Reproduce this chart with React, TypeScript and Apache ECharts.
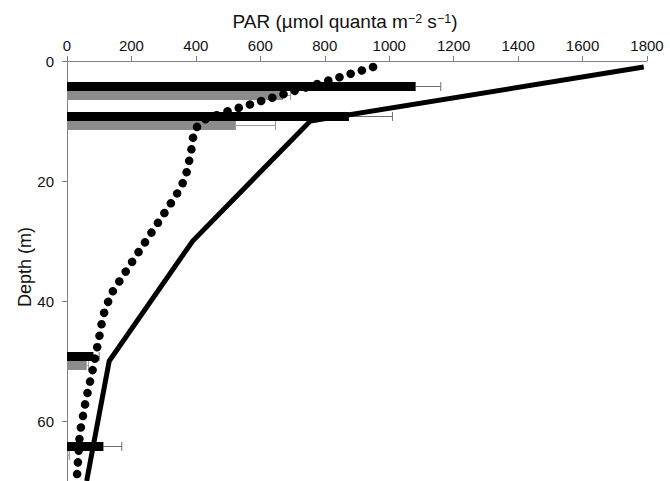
import React, { useEffect, useRef } from "react";
import * as echarts from "echarts";

// PAR (x) against depth (y)
const xTicks = { min: 0, max: 1800, interval: 200 };
const yTicks = { min: 0, max: 70, interval: 20 };

// paired bar measurements at each sampling depth (m)
const barDepths = [5, 10, 50, 65];
const blackValues = [1082, 875, 82, 113];
const blackErrors = [78, 135, 18, 57];
const grayValues = [670, 524, 61, 4];
const grayErrors = [24, 123, 6, 4];

// modelled light profile (solid line): [PAR, depth]
const solidProfile: [number, number][] = [
  [1790, 1],
  [755, 10],
  [390, 30],
  [131, 50],
  [61, 70],
];

// measured light profile (dotted line): [PAR, depth]
const dottedProfile: [number, number][] = [
  [950, 1],
  [491, 8.5],
  [421, 9.9],
  [400, 11.2],
  [390, 13],
  [385, 15.2],
  [369, 19.1],
  [353, 21.1],
  [330, 23.1],
  [209, 32.9],
  [136, 38.9],
  [111, 42.6],
  [104, 44.9],
  [82, 50.9],
  [58, 56.7],
  [40, 62],
  [30, 70],
];

const BAR_THICK = 1.5; // in metres of depth

function barSeries(values: number[], errors: number[], offset: number, color: string, errColor: string) {
  return {
    type: "custom",
    coordinateSystem: "cartesian2d",
    clip: true,
    data: values.map((v, i) => [v, barDepths[i], errors[i]]),
    encode: { x: 0, y: 1 },
    renderItem: (_params: any, api: any) => {
      const v = api.value(0);
      const d = api.value(1) + offset;
      const e = api.value(2);
      const p0 = api.coord([0, d - BAR_THICK / 2]);
      const p1 = api.coord([v, d + BAR_THICK / 2]);
      const c = api.coord([v, d]);
      const ce = api.coord([v + e, d]);
      const y0 = Math.min(p0[1], p1[1]);
      const h = Math.abs(p1[1] - p0[1]);
      return {
        type: "group",
        children: [
          {
            type: "line",
            shape: { x1: c[0], y1: c[1], x2: ce[0], y2: ce[1] },
            style: { stroke: errColor, lineWidth: 1 },
          },
          {
            type: "line",
            shape: { x1: ce[0], y1: ce[1] - 4.5, x2: ce[0], y2: ce[1] + 4.5 },
            style: { stroke: errColor, lineWidth: 1 },
          },
          {
            type: "rect",
            shape: { x: p0[0], y: y0, width: p1[0] - p0[0], height: h },
            style: { fill: color },
          },
        ],
      };
    },
    z: 2,
  };
}

export default function App() {
  const ref = useRef<HTMLDivElement>(null);

  useEffect(() => {
    if (!ref.current) return;
    const chart = echarts.init(ref.current, undefined, { renderer: "svg" });
    const font = "'Liberation Sans', Arial, Helvetica, sans-serif";
    const ink = "#111";
    chart.setOption({
      animation: false,
      textStyle: { fontFamily: font },
      grid: { left: 67, right: 23, top: 61, height: 420, containLabel: false },
      xAxis: {
        type: "value",
        position: "top",
        min: xTicks.min,
        max: xTicks.max,
        interval: xTicks.interval,
        name: "{n|PAR (µmol quanta m}{sup|−2}{n| s}{sup|−1}{n|)}",
        nameLocation: "middle",
        nameMoveOverlap: false,
        nameGap: 30,
        nameTextStyle: {
          fontFamily: font,
          padding: [0, 24, 0, 0],
          rich: {
            n: { fontSize: 19, lineHeight: 19, color: ink, fontFamily: font, verticalAlign: "bottom" },
            sup: { fontSize: 12.5, lineHeight: 14, color: ink, fontFamily: font, verticalAlign: "top" },
          },
        },
        axisLine: { show: true, lineStyle: { color: "#808080", width: 1 } },
        axisTick: { show: true, inside: false, length: 5, lineStyle: { color: "#808080" } },
        axisLabel: {
          fontSize: 15,
          color: ink,
          margin: 8,
          fontFamily: font,
          formatter: (v: number) => String(v),
        },
        splitLine: { show: false },
      },
      yAxis: {
        type: "value",
        inverse: true,
        min: yTicks.min,
        max: yTicks.max,
        interval: yTicks.interval,
        name: "Depth (m)",
        nameLocation: "middle",
        nameMoveOverlap: false,
        nameGap: 33,
        nameTextStyle: { fontSize: 18, color: ink, fontFamily: font, padding: [0, 0, 0, 8] },
        axisLine: { show: true, lineStyle: { color: "#808080", width: 1 } },
        axisTick: { show: true, inside: false, length: 5, lineStyle: { color: "#808080" } },
        axisLabel: {
          fontSize: 15,
          color: ink,
          margin: 13,
          fontFamily: font,
          showMaxLabel: false,
          formatter: (v: number) => String(v),
        },
        splitLine: { show: false },
      },
      series: [
        barSeries(blackValues, blackErrors, -BAR_THICK / 2, "#000000", "#6e6e6e"),
        barSeries(grayValues, grayErrors, BAR_THICK / 2, "#8c8c8c", "#9a9a9a"),
        {
          type: "line",
          data: solidProfile,
          symbol: "none",
          lineStyle: { color: "#000", width: 5, cap: "butt", join: "miter" },
          z: 3,
        },
        {
          type: "line",
          data: dottedProfile,
          symbol: "none",
          smooth: false,
          lineStyle: { color: "#000", width: 8.5, type: [0.1, 11.6], cap: "round", join: "round" },
          z: 4,
        },
      ],
    });
    return () => chart.dispose();
  }, []);

  return (
    <div
      ref={ref}
      style={{ position: "fixed", left: 0, top: 0, width: 670, height: 481, background: "#fff" }}
    />
  );
}
